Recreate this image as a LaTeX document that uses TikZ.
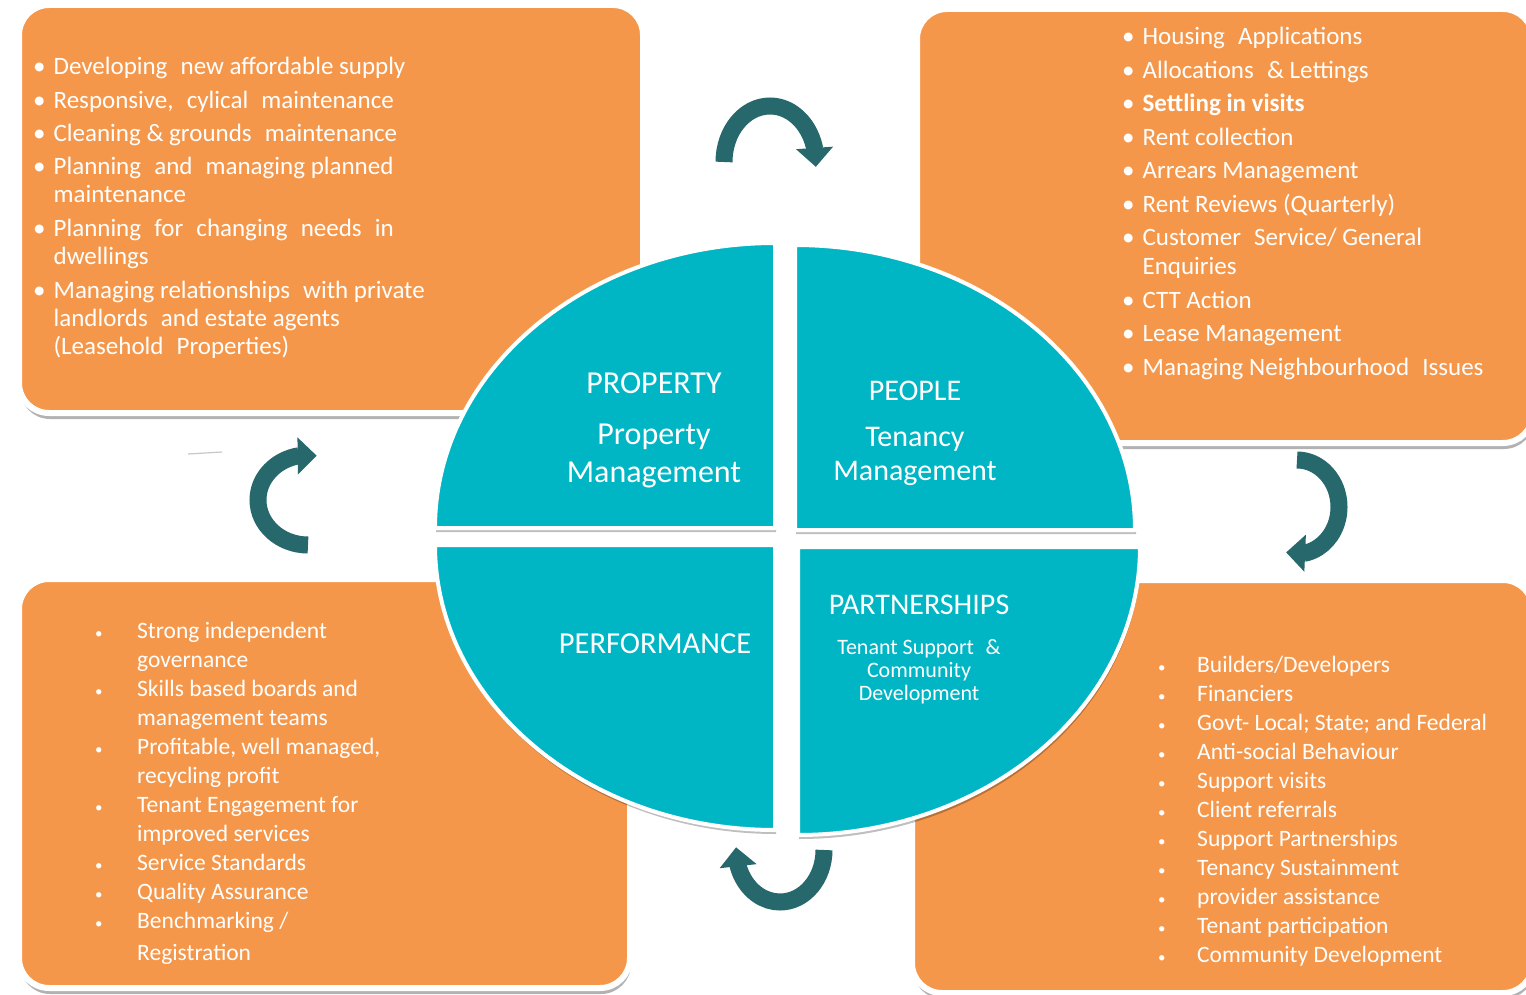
\documentclass[tikz,border=0pt]{standalone}
\usepackage{fontspec}
\setmainfont{Carlito}
\usetikzlibrary{shadows,arrows.meta,bending}
\definecolor{boxorange}{RGB}{245,151,74}
\definecolor{quadteal}{RGB}{0,182,196}
\definecolor{cyclegreen}{RGB}{38,104,108}
\newcommand{\wsp}{\hspace{0.3em}}
\begin{document}
\begin{tikzpicture}[x=1pt,y=-1pt,
  panel/.style={rectangle, fill=boxorange, draw=white, line width=6pt,
    rounded corners=30pt, inner sep=0pt,
    drop shadow={shadow xshift=1pt, shadow yshift=-6pt, opacity=0.3, fill=black}},
  quad/.style={fill=quadteal, draw=white, line width=4pt, line join=round,
    drop shadow={shadow xshift=1pt, shadow yshift=-4pt, opacity=0.25, fill=black}},
  cycle arrow/.style={draw=cyclegreen, line width=17pt,
    -{Triangle[length=19pt,width=36pt]}},
  listtext/.style={text=white, inner sep=0pt, anchor=base west},
  quadtext/.style={text=white, inner sep=0pt, anchor=base}]

\path[use as bounding box, fill=white] (0,0) rectangle (1526,995);

% four orange panels
\node[panel, minimum width=624pt, minimum height=408pt] (tlbox) at (331,209) {};
\node[panel, minimum width=616pt, minimum height=434pt] (trbox) at (1225,226) {};
\node[panel, minimum width=611pt, minimum height=409pt] (blbox) at (324.5,783.5) {};
\node[panel, minimum width=621pt, minimum height=413pt] (brbox) at (1222.5,786.5) {};

% small stray stroke left of the left arrow
\draw[black!22, line width=1.2pt] (188,454) -- (222,452);

% central split ellipse
\path[quad] (775,528) -- (435,528) arc[start angle=180, end angle=270, x radius=340, y radius=285] -- cycle;
\path[quad] (795,530) -- (795,245) arc[start angle=270, end angle=360, x radius=340, y radius=285] -- cycle;
\path[quad] (798,547) -- (1140,547) arc[start angle=0, end angle=90, x radius=342, y radius=288] -- cycle;
\path[quad] (775,545) -- (775,830) arc[start angle=90, end angle=180, x radius=340, y radius=285] -- cycle;

% cycle arrows
\draw[cycle arrow] (724,162) arc[start angle=180, end angle=365, x radius=46, y radius=56];
\draw[cycle arrow] (1297,460) arc[start angle=-90, end angle=105, x radius=42, y radius=47];
\draw[cycle arrow] (824,850) arc[start angle=0, end angle=183, x radius=44, y radius=52];
\draw[cycle arrow] (308,545) arc[start angle=90, end angle=280, x radius=50, y radius=45];

% quadrant labels
\node[quadtext] (property) at (654,393) {\fontsize{32}{38}\selectfont
  \begin{tabular}[t]{@{}c@{}}PROPERTY\\[13pt] Property\\ Management\end{tabular}};
\node[quadtext] (people) at (915,400) {\fontsize{30}{34}\selectfont
  \begin{tabular}[t]{@{}c@{}}PEOPLE\\[12pt] Tenancy\\ Management\end{tabular}};
\node[quadtext] (performance) at (655,653) {\fontsize{30.5}{34}\selectfont PERFORMANCE};
\node[quadtext] (partnerships) at (919,614) {\fontsize{30}{34}\selectfont PARTNERSHIPS};
\node[quadtext] (support) at (919,654) {\fontsize{22}{23}\selectfont
  \begin{tabular}[t]{@{}c@{}}Tenant Support\wsp{} \&\\ Community\\ Development\end{tabular}};

% property list
\node[listtext] (tllist) at (33,75) {\fontsize{25}{28}\selectfont
  \begin{tabular}[t]{@{}l@{\hspace{8pt}}l@{}}
  \textbullet & Developing\wsp{} new affordable supply\\[5.5pt]
  \textbullet & Responsive,\wsp{} cylical\wsp{} maintenance\\[5pt]
  \textbullet & Cleaning \& grounds\wsp{} maintenance\\[5pt]
  \textbullet & Planning\wsp{} and\wsp{} managing planned\\
              & maintenance\\[6pt]
  \textbullet & Planning\wsp{} for\wsp{} changing\wsp{} needs\wsp{} in\\
              & dwellings\\[6pt]
  \textbullet & Managing relationships\wsp{} with private\\
              & landlords\wsp{} and estate agents\\
              & (Leasehold\wsp{} Properties)
  \end{tabular}};

% people list
\node[listtext] (trlist) at (1122,45) {\fontsize{25}{29}\selectfont
  \begin{tabular}[t]{@{}l@{\hspace{8pt}}l@{}}
  \textbullet & Housing\wsp{} Applications\\[4.5pt]
  \textbullet & Allocations\wsp{} \& Lettings\\[4.5pt]
  \textbullet & \textbf{Settling in visits}\\[4.5pt]
  \textbullet & Rent collection\\[4.5pt]
  \textbullet & Arrears Management\\[4.5pt]
  \textbullet & Rent Reviews (Quarterly)\\[4.5pt]
  \textbullet & Customer\wsp{} Service/ General\\
              & Enquiries\\[4.5pt]
  \textbullet & CTT Action\\[4.5pt]
  \textbullet & Lease Management\\[4.5pt]
  \textbullet & Managing Neighbourhood\wsp{} Issues
  \end{tabular}};

% performance list
\newcommand{\smallbul}{{\fontsize{15}{15}\selectfont\textbullet}}
\node[listtext] (bllist) at (95,638) {\fontsize{23.5}{29}\selectfont
  \begin{tabular}[t]{@{}p{42pt}@{}l@{}}
  \smallbul & Strong independent\\
            & governance\\
  \smallbul & Skills based boards and\\
            & management teams\\
  \smallbul & Profitable, well managed,\\
            & recycling profit\\
  \smallbul & Tenant Engagement for\\
            & improved services\\
  \smallbul & Service Standards\\
  \smallbul & Quality Assurance\\
  \smallbul & Benchmarking /\\[3pt]
            & Registration
  \end{tabular}};

% partnerships list
\node[listtext] (brlist) at (1158,672) {\fontsize{23.5}{29}\selectfont
  \begin{tabular}[t]{@{}p{39pt}@{}l@{}}
  \smallbul & Builders/Developers\\
  \smallbul & Financiers\\
  \smallbul & Govt- Local; State; and Federal\\
  \smallbul & Anti-social Behaviour\\
  \smallbul & Support visits\\
  \smallbul & Client referrals\\
  \smallbul & Support Partnerships\\
  \smallbul & Tenancy Sustainment\\
  \smallbul & provider assistance\\
  \smallbul & Tenant participation\\
  \smallbul & Community Development
  \end{tabular}};
\end{tikzpicture}
\end{document}
